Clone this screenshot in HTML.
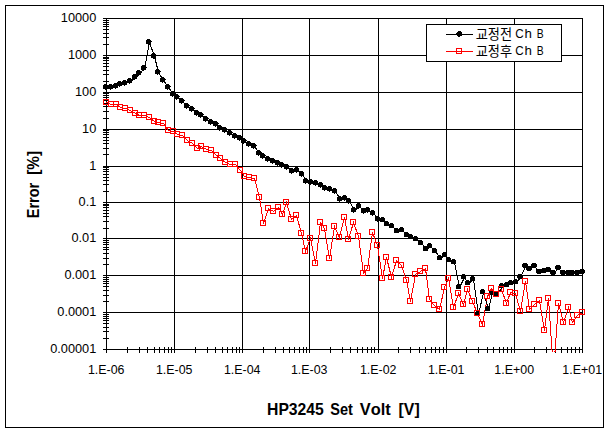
<!DOCTYPE html>
<html><head><meta charset="utf-8"><title>Error vs HP3245 Set Volt</title>
<style>html,body{margin:0;padding:0;background:#fff}body{width:610px;height:433px;overflow:hidden}svg{display:block}text{font-family:"Liberation Sans",sans-serif;fill:#000}</style></head><body>
<svg width="610" height="433" viewBox="0 0 610 433">
<rect x="0" y="0" width="610" height="433" fill="#fff"/>
<g shape-rendering="crispEdges" fill="none" stroke="#000" stroke-width="1">
<rect x="5.5" y="5.5" width="598" height="422"/>
<path d="M103 18.5H583M103 55.5H583M103 92.5H583M103 129.5H583M103 166.5H583M103 202.5H583M103 238.5H583M103 275.5H583M103 312.5H583M103 349.5H583M106.5 18V353M174.5 18V353M242.5 18V353M309.5 18V353M378.5 18V353M446.5 18V353M514.5 18V353M582.5 18V353M103 20.5H109M103 22.5H109M103 24.5H109M103 26.5H109M103 29.5H109M103 33.5H109M103 37.5H109M103 44.5H109M103 57.5H109M103 58.5H109M103 60.5H109M103 63.5H109M103 66.5H109M103 70.5H109M103 74.5H109M103 81.5H109M103 93.5H109M103 95.5H109M103 97.5H109M103 100.5H109M103 103.5H109M103 106.5H109M103 111.5H109M103 118.5H109M103 130.5H109M103 132.5H109M103 134.5H109M103 137.5H109M103 140.5H109M103 143.5H109M103 148.5H109M103 154.5H109M103 167.5H109M103 169.5H109M103 171.5H109M103 174.5H109M103 177.5H109M103 180.5H109M103 184.5H109M103 191.5H109M103 204.5H109M103 205.5H109M103 207.5H109M103 210.5H109M103 213.5H109M103 216.5H109M103 221.5H109M103 228.5H109M103 240.5H109M103 242.5H109M103 244.5H109M103 247.5H109M103 249.5H109M103 253.5H109M103 258.5H109M103 264.5H109M103 277.5H109M103 279.5H109M103 281.5H109M103 283.5H109M103 286.5H109M103 290.5H109M103 295.5H109M103 301.5H109M103 314.5H109M103 316.5H109M103 318.5H109M103 320.5H109M103 323.5H109M103 327.5H109M103 331.5H109M103 338.5H109M127.5 347V353M139.5 347V353M147.5 347V353M154.5 347V353M159.5 347V353M164.5 347V353M168.5 347V353M171.5 347V353M195.5 347V353M207.5 347V353M215.5 347V353M222.5 347V353M227.5 347V353M232.5 347V353M236.5 347V353M239.5 347V353M263.5 347V353M275.5 347V353M283.5 347V353M289.5 347V353M294.5 347V353M299.5 347V353M303.5 347V353M306.5 347V353M330.5 347V353M342.5 347V353M350.5 347V353M357.5 347V353M362.5 347V353M367.5 347V353M371.5 347V353M374.5 347V353M398.5 347V353M410.5 347V353M419.5 347V353M425.5 347V353M431.5 347V353M435.5 347V353M439.5 347V353M443.5 347V353M466.5 347V353M478.5 347V353M487.5 347V353M493.5 347V353M499.5 347V353M503.5 347V353M507.5 347V353M511.5 347V353M534.5 347V353M546.5 347V353M555.5 347V353M561.5 347V353M567.5 347V353M571.5 347V353M575.5 347V353M579.5 347V353"/>
</g>
<defs><clipPath id="c"><rect x="100" y="10" width="490" height="342"/></clipPath></defs>
<g shape-rendering="crispEdges" clip-path="url(#c)">
<polyline points="106.5,102.5 111.5,104.5 116.5,104.5 120.5,107.5 125.5,108.5 130.5,110.5 135.5,113.5 139.5,115.5 144.5,115.5 149.5,117.5 154.5,121.5 158.5,122.5 163.5,123.5 168.5,130.5 173.5,131.5 177.5,134.5 182.5,135.5 187.5,140.5 192.5,143.5 197.5,148.5 201.5,146.5 206.5,149.5 211.5,150.5 216.5,155.5 220.5,158.5 225.5,162.5 230.5,164.5 235.5,164.5 240.5,170.5 244.5,176.5 249.5,177.5 254.5,178.5 259.5,197.5 263.5,223.5 268.5,208.5 273.5,211.5 278.5,207.5 282.5,214.5 286.5,202.5 291.5,219.5 296.5,215.5 301.5,233.5 305.5,251.5 310.5,238.5 315.5,263.5 320.5,222.5 324.5,228.5 329.5,258.5 334.5,226.5 339.5,237.5 344.5,217.5 348.5,239.5 353.5,222.5 358.5,236.5 363.5,273.5 367.5,268.5 372.5,232.5 377.5,245.5 382.5,278.5 386.5,257.5 391.5,277.5 396.5,260.5 401.5,265.5 406.5,280.5 410.5,301.5 415.5,274.5 420.5,271.5 425.5,268.5 429.5,299.5 434.5,305.5 439.5,309.5 444.5,287.5 448.5,278.5 453.5,307.5 458.5,293.5 463.5,304.5 467.5,289.5 472.5,301.5 477.5,313.5 482.5,324.5 487.5,296.5 491.5,288.5 496.5,294.5 501.5,289.5 506.5,303.5 510.5,292.5 515.5,293.5 520.5,311.5 525.5,281.5 529.5,309.5 534.5,304.5 539.5,300.5 544.5,330.5 548.5,298.5 553.5,372.5 558.5,303.5 563.5,322.5 568.5,307.5 572.5,322.5 577.5,315.5 582.5,312.5" fill="none" stroke="#f00" stroke-width="1"/>
<polyline points="106.5,87.5 111.5,87.5 116.5,86.5 120.5,84.5 125.5,83.5 130.5,81.5 135.5,77.5 139.5,73.5 144.5,68.5 149.5,42.5 154.5,56.5 158.5,72.5 163.5,80.5 168.5,87.5 173.5,94.5 177.5,97.5 182.5,101.5 187.5,106.5 192.5,109.5 197.5,113.5 201.5,115.5 206.5,119.5 211.5,122.5 216.5,124.5 220.5,128.5 225.5,130.5 230.5,133.5 235.5,136.5 240.5,138.5 244.5,141.5 249.5,144.5 254.5,146.5 259.5,153.5 263.5,156.5 268.5,159.5 273.5,161.5 278.5,163.5 282.5,165.5 287.5,167.5 292.5,171.5 297.5,170.5 302.5,174.5 306.5,181.5 311.5,182.5 316.5,183.5 321.5,185.5 325.5,188.5 330.5,189.5 335.5,191.5 340.5,199.5 345.5,198.5 349.5,201.5 354.5,210.5 359.5,206.5 364.5,211.5 368.5,210.5 373.5,213.5 378.5,219.5 383.5,220.5 387.5,224.5 392.5,226.5 397.5,231.5 402.5,230.5 407.5,235.5 411.5,237.5 416.5,239.5 421.5,243.5 426.5,249.5 430.5,246.5 435.5,251.5 440.5,258.5 445.5,255.5 449.5,260.5 454.5,262.5 459.5,287.5 464.5,277.5 468.5,283.5 473.5,279.5 478.5,314.5 483.5,292.5 488.5,309.5 492.5,293.5 497.5,294.5 502.5,286.5 507.5,285.5 511.5,283.5 516.5,282.5 520.5,277.5 525.5,266.5 529.5,269.5 534.5,266.5 539.5,272.5 544.5,271.5 548.5,270.5 553.5,273.5 558.5,268.5 563.5,273.5 568.5,273.5 572.5,273.5 577.5,273.5 582.5,272.5" fill="none" stroke="#000" stroke-width="1"/>
<path d="M104 84h3v1h1v1h1v1h-1v2h-2v1h-1v-1h-2v-4h1zM109 84h3v1h1v1h1v1h-1v2h-2v1h-1v-1h-2v-4h1zM114 83h3v1h1v1h1v1h-1v2h-2v1h-1v-1h-2v-4h1zM118 81h3v1h1v1h1v1h-1v2h-2v1h-1v-1h-2v-4h1zM123 80h3v1h1v1h1v1h-1v2h-2v1h-1v-1h-2v-4h1zM128 78h3v1h1v1h1v1h-1v2h-2v1h-1v-1h-2v-4h1zM133 74h3v1h1v1h1v1h-1v2h-2v1h-1v-1h-2v-4h1zM137 70h3v1h1v1h1v1h-1v2h-2v1h-1v-1h-2v-4h1zM142 65h3v1h1v1h1v1h-1v2h-2v1h-1v-1h-2v-4h1zM147 39h3v1h1v1h1v1h-1v2h-2v1h-1v-1h-2v-4h1zM152 53h3v1h1v1h1v1h-1v2h-2v1h-1v-1h-2v-4h1zM156 69h3v1h1v1h1v1h-1v2h-2v1h-1v-1h-2v-4h1zM161 77h3v1h1v1h1v1h-1v2h-2v1h-1v-1h-2v-4h1zM166 84h3v1h1v1h1v1h-1v2h-2v1h-1v-1h-2v-4h1zM171 91h3v1h1v1h1v1h-1v2h-2v1h-1v-1h-2v-4h1zM175 94h3v1h1v1h1v1h-1v2h-2v1h-1v-1h-2v-4h1zM180 98h3v1h1v1h1v1h-1v2h-2v1h-1v-1h-2v-4h1zM185 103h3v1h1v1h1v1h-1v2h-2v1h-1v-1h-2v-4h1zM190 106h3v1h1v1h1v1h-1v2h-2v1h-1v-1h-2v-4h1zM195 110h3v1h1v1h1v1h-1v2h-2v1h-1v-1h-2v-4h1zM199 112h3v1h1v1h1v1h-1v2h-2v1h-1v-1h-2v-4h1zM204 116h3v1h1v1h1v1h-1v2h-2v1h-1v-1h-2v-4h1zM209 119h3v1h1v1h1v1h-1v2h-2v1h-1v-1h-2v-4h1zM214 121h3v1h1v1h1v1h-1v2h-2v1h-1v-1h-2v-4h1zM218 125h3v1h1v1h1v1h-1v2h-2v1h-1v-1h-2v-4h1zM223 127h3v1h1v1h1v1h-1v2h-2v1h-1v-1h-2v-4h1zM228 130h3v1h1v1h1v1h-1v2h-2v1h-1v-1h-2v-4h1zM233 133h3v1h1v1h1v1h-1v2h-2v1h-1v-1h-2v-4h1zM238 135h3v1h1v1h1v1h-1v2h-2v1h-1v-1h-2v-4h1zM242 138h3v1h1v1h1v1h-1v2h-2v1h-1v-1h-2v-4h1zM247 141h3v1h1v1h1v1h-1v2h-2v1h-1v-1h-2v-4h1zM252 143h3v1h1v1h1v1h-1v2h-2v1h-1v-1h-2v-4h1zM257 150h3v1h1v1h1v1h-1v2h-2v1h-1v-1h-2v-4h1zM261 153h3v1h1v1h1v1h-1v2h-2v1h-1v-1h-2v-4h1zM266 156h3v1h1v1h1v1h-1v2h-2v1h-1v-1h-2v-4h1zM271 158h3v1h1v1h1v1h-1v2h-2v1h-1v-1h-2v-4h1zM276 160h3v1h1v1h1v1h-1v2h-2v1h-1v-1h-2v-4h1zM280 162h3v1h1v1h1v1h-1v2h-2v1h-1v-1h-2v-4h1zM285 164h3v1h1v4h-2v1h-1v-1h-2v-4h1zM290 168h3v1h1v4h-2v1h-1v-1h-2v-4h1zM295 167h3v1h1v4h-2v1h-1v-1h-2v-4h1zM300 171h3v1h1v4h-2v1h-1v-1h-2v-4h1zM304 178h3v1h1v4h-2v1h-1v-1h-2v-4h1zM309 179h3v1h1v4h-2v1h-1v-1h-2v-4h1zM314 180h3v1h1v4h-2v1h-1v-1h-2v-4h1zM319 182h3v1h1v4h-2v1h-1v-1h-2v-4h1zM323 185h3v1h1v4h-2v1h-1v-1h-2v-4h1zM328 186h3v1h1v4h-2v1h-1v-1h-2v-4h1zM333 188h3v1h1v4h-2v1h-1v-1h-2v-4h1zM338 196h3v1h1v4h-2v1h-1v-1h-2v-4h1zM343 195h3v1h1v4h-2v1h-1v-1h-2v-4h1zM347 198h3v1h1v4h-2v1h-1v-1h-2v-4h1zM352 207h3v1h1v4h-2v1h-1v-1h-2v-4h1zM357 203h3v1h1v4h-2v1h-1v-1h-2v-4h1zM362 208h3v1h1v4h-2v1h-1v-1h-2v-4h1zM366 207h3v1h1v4h-2v1h-1v-1h-2v-4h1zM371 210h3v1h1v4h-2v1h-1v-1h-2v-4h1zM376 216h3v1h1v4h-2v1h-1v-1h-2v-4h1zM381 217h3v1h1v4h-5v-4h1zM385 221h3v1h1v4h-5v-4h1zM390 223h3v1h1v4h-5v-4h1zM395 228h3v1h1v4h-5v-4h1zM400 227h3v1h1v4h-5v-4h1zM405 232h3v1h1v4h-5v-4h1zM409 234h3v1h1v4h-5v-4h1zM414 236h3v1h1v4h-5v-4h1zM419 240h3v1h1v4h-5v-4h1zM424 246h3v1h1v4h-5v-4h1zM428 243h3v1h1v4h-5v-4h1zM433 248h3v1h1v4h-5v-4h1zM438 255h3v1h1v4h-5v-4h1zM443 252h3v1h1v4h-5v-4h1zM447 257h3v1h1v4h-5v-4h1zM452 259h3v1h1v4h-5v-4h1zM457 284h3v1h1v4h-5v-4h1zM462 274h3v1h1v4h-5v-4h1zM466 280h3v1h1v4h-5v-4h1zM471 276h3v1h1v4h-5v-4h1zM476 311h3v1h1v4h-5v-4h1zM481 289h3v1h1v4h-5v-4h1zM486 306h3v1h1v4h-5v-4h1zM490 290h3v1h1v4h-5v-4h1zM495 291h3v1h1v4h-5v-4h1zM500 283h3v1h1v4h-5v-4h1zM505 282h3v1h1v4h-5v-4h1zM509 280h3v1h1v4h-5v-4h1zM514 279h3v1h1v4h-5v-4h1zM518 274h4v1h1v3h-1v1h-4v-1h-1v-3h1zM523 263h4v1h1v3h-1v1h-4v-1h-1v-3h1zM527 266h4v1h1v3h-1v1h-4v-1h-1v-3h1zM532 263h4v1h1v3h-1v1h-4v-1h-1v-3h1zM537 269h4v1h1v3h-1v1h-4v-1h-1v-3h1zM542 268h4v1h1v3h-1v1h-4v-1h-1v-3h1zM546 267h4v1h1v3h-1v1h-4v-1h-1v-3h1zM551 270h4v1h1v3h-1v1h-4v-1h-1v-3h1zM556 265h4v1h1v3h-1v1h-4v-1h-1v-3h1zM561 270h4v1h1v3h-1v1h-4v-1h-1v-3h1zM566 270h4v1h1v3h-1v1h-4v-1h-1v-3h1zM570 270h4v1h1v3h-1v1h-4v-1h-1v-3h1zM575 270h4v1h1v3h-1v1h-4v-1h-1v-3h1zM580 269h4v1h1v3h-1v1h-4v-1h-1v-3h1z" fill="#000"/>
<path d="M103.5 99.5h5v5h-5zM108.5 101.5h5v5h-5zM113.5 101.5h5v5h-5zM117.5 104.5h5v5h-5zM122.5 105.5h5v5h-5zM127.5 107.5h5v5h-5zM132.5 110.5h5v5h-5zM136.5 112.5h5v5h-5zM141.5 112.5h5v5h-5zM146.5 114.5h5v5h-5zM151.5 118.5h5v5h-5zM155.5 119.5h5v5h-5zM160.5 120.5h5v5h-5zM165.5 127.5h5v5h-5zM170.5 128.5h5v5h-5zM174.5 131.5h5v5h-5zM179.5 132.5h5v5h-5zM184.5 137.5h5v5h-5zM189.5 140.5h5v5h-5zM194.5 145.5h5v5h-5zM198.5 143.5h5v5h-5zM203.5 146.5h5v5h-5zM208.5 147.5h5v5h-5zM213.5 152.5h5v5h-5zM217.5 155.5h5v5h-5zM222.5 159.5h5v5h-5zM227.5 161.5h5v5h-5zM232.5 161.5h5v5h-5zM237.5 167.5h5v5h-5zM241.5 173.5h5v5h-5zM246.5 174.5h5v5h-5zM251.5 175.5h5v5h-5zM256.5 194.5h5v5h-5zM260.5 220.5h5v5h-5zM265.5 205.5h5v5h-5zM270.5 208.5h5v5h-5zM275.5 204.5h5v5h-5zM279.5 211.5h5v5h-5zM283.5 199.5h5v5h-5zM288.5 216.5h5v5h-5zM293.5 212.5h5v5h-5zM298.5 230.5h5v5h-5zM302.5 248.5h5v5h-5zM307.5 235.5h5v5h-5zM312.5 260.5h5v5h-5zM317.5 219.5h5v5h-5zM321.5 225.5h5v5h-5zM326.5 255.5h5v5h-5zM331.5 223.5h5v5h-5zM336.5 234.5h5v5h-5zM341.5 214.5h5v5h-5zM345.5 236.5h5v5h-5zM350.5 219.5h5v5h-5zM355.5 233.5h5v5h-5zM360.5 270.5h5v5h-5zM364.5 265.5h5v5h-5zM369.5 229.5h5v5h-5zM374.5 242.5h5v5h-5zM379.5 275.5h5v5h-5zM383.5 254.5h5v5h-5zM388.5 274.5h5v5h-5zM393.5 257.5h5v5h-5zM398.5 262.5h5v5h-5zM403.5 277.5h5v5h-5zM407.5 298.5h5v5h-5zM412.5 271.5h5v5h-5zM417.5 268.5h5v5h-5zM422.5 265.5h5v5h-5zM426.5 296.5h5v5h-5zM431.5 302.5h5v5h-5zM436.5 306.5h5v5h-5zM441.5 284.5h5v5h-5zM445.5 275.5h5v5h-5zM450.5 304.5h5v5h-5zM455.5 290.5h5v5h-5zM460.5 301.5h5v5h-5zM464.5 286.5h5v5h-5zM469.5 298.5h5v5h-5zM474.5 310.5h5v5h-5zM479.5 321.5h5v5h-5zM484.5 293.5h5v5h-5zM488.5 285.5h5v5h-5zM493.5 291.5h5v5h-5zM498.5 286.5h5v5h-5zM503.5 300.5h5v5h-5zM507.5 289.5h5v5h-5zM512.5 290.5h5v5h-5zM517.5 308.5h5v5h-5zM522.5 278.5h5v5h-5zM526.5 306.5h5v5h-5zM531.5 301.5h5v5h-5zM536.5 297.5h5v5h-5zM541.5 327.5h5v5h-5zM545.5 295.5h5v5h-5zM550.5 369.5h5v5h-5zM555.5 300.5h5v5h-5zM560.5 319.5h5v5h-5zM565.5 304.5h5v5h-5zM569.5 319.5h5v5h-5zM574.5 312.5h5v5h-5zM579.5 309.5h5v5h-5z" fill="none" stroke="#f00" stroke-width="1"/>
</g>
<g font-size="12" text-anchor="end" style="font-kerning:none">
<text transform="translate(96.3,22) scale(1.064,1)">10000</text>
<text transform="translate(96.3,59) scale(1.064,1)">1000</text>
<text transform="translate(96.3,96) scale(1.064,1)">100</text>
<text transform="translate(96.3,133) scale(1.064,1)">10</text>
<text transform="translate(96.3,170) scale(1.064,1)">1</text>
<text transform="translate(96.3,206) scale(1.064,1)">0.1</text>
<text transform="translate(96.3,242) scale(1.064,1)">0.01</text>
<text transform="translate(96.3,279) scale(1.064,1)">0.001</text>
<text transform="translate(96.3,316) scale(1.064,1)">0.0001</text>
<text transform="translate(96.3,353) scale(1.064,1)">0.00001</text>
</g>
<g font-size="12" text-anchor="middle" style="font-kerning:none">
<text transform="translate(106.2,374) scale(1.035,1)">1.E-06</text>
<text transform="translate(174.2,374) scale(1.035,1)">1.E-05</text>
<text transform="translate(242.2,374) scale(1.035,1)">1.E-04</text>
<text transform="translate(309.2,374) scale(1.035,1)">1.E-03</text>
<text transform="translate(378.2,374) scale(1.035,1)">1.E-02</text>
<text transform="translate(446.2,374) scale(1.035,1)">1.E-01</text>
<text transform="translate(514.2,374) scale(1.035,1)">1.E+00</text>
<text transform="translate(582.2,374) scale(1.035,1)">1.E+01</text>
</g>
<g font-size="16" font-weight="bold" style="font-kerning:none">
<text transform="translate(267.05,415.2) scale(0.9822,1)">HP3245</text>
<text transform="translate(330.28,415.2) scale(0.9075,1)">Set</text>
<text transform="translate(359.79,415.2) scale(1.0263,1)">Volt</text>
<text transform="translate(398.61,415.2) scale(0.9882,1)">[V]</text>
<text transform="translate(38.6,217.2) rotate(-90) translate(-0.97,0) scale(0.9045,1)">Error</text>
<text transform="translate(38.6,217.2) rotate(-90) translate(42.34,0) scale(0.9616,1)">[%]</text>
</g>
<g shape-rendering="crispEdges">
<rect x="426.5" y="24.5" width="135" height="37" fill="#fff" stroke="#000" stroke-width="1"/>
<path d="M446 34.5H473" stroke="#000" fill="none"/>
<path d="M458 31h3v1h1v4h-2v1h-2v-1h-1v-1h-1v-2h1v-1h1z" fill="#000"/>
<path d="M446 51.5H473" stroke="#f00" fill="none"/>
<rect x="456.5" y="48.5" width="5" height="5" fill="none" stroke="#f00"/>
</g>
<text x="475.7" y="38.8" font-size="13.2" textLength="36.5" lengthAdjust="spacingAndGlyphs" style="font-family:'Liberation Sans','Noto Sans CJK KR',sans-serif">교정전</text>
<text font-size="13.2" transform="translate(515.31,38.4) scale(0.8852,1)">C</text>
<text font-size="13.2" transform="translate(524.48,38.4) scale(1.0056,1)">h</text>
<text font-size="13.2" transform="translate(536.65,38.4) scale(0.7829,1)">B</text>
<text x="475.7" y="55.8" font-size="13.2" textLength="36.5" lengthAdjust="spacingAndGlyphs" style="font-family:'Liberation Sans','Noto Sans CJK KR',sans-serif">교정후</text>
<text font-size="13.2" transform="translate(515.31,55.4) scale(0.8852,1)">C</text>
<text font-size="13.2" transform="translate(524.48,55.4) scale(1.0056,1)">h</text>
<text font-size="13.2" transform="translate(536.65,55.4) scale(0.7829,1)">B</text>
</svg></body></html>
